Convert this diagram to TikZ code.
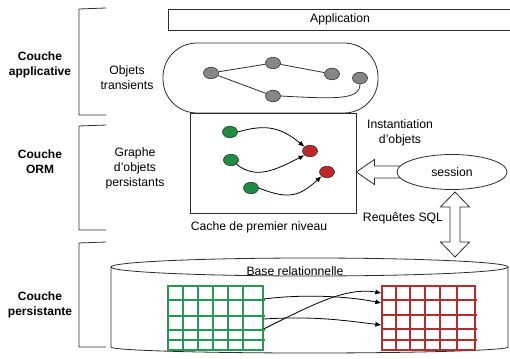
\documentclass[tikz,border=0pt]{standalone}
\usepackage{fontspec}
\setmainfont{Liberation Sans}
\usetikzlibrary{shapes.geometric,arrows.meta,calc}

\definecolor{linec}{RGB}{45,45,45}
\definecolor{objgray}{RGB}{135,135,135}
\definecolor{objgreen}{RGB}{30,140,65}
\definecolor{objred}{RGB}{190,40,40}
\definecolor{gridgreen}{RGB}{40,150,85}
\definecolor{gridred}{RGB}{180,45,45}

\tikzset{
  basefont/.style={font=\fontsize{12.2}{15}\selectfont},
  layertitle/.style={font=\fontsize{12}{15}\selectfont\bfseries, align=center},
  lbl/.style={basefont, align=center, inner sep=0pt},
  bracketline/.style={draw=linec, line width=0.8pt},
  frame/.style={draw=linec, line width=0.8pt},
  obj/.style={ellipse, draw=linec, line width=0.6pt, minimum width=15pt, minimum height=11.5pt, inner sep=0pt},
  grayobj/.style={obj, fill=objgray},
  greenobj/.style={obj, fill=objgreen},
  redobj/.style={obj, fill=objred},
  link/.style={draw=linec, line width=0.8pt},
  ref/.style={draw=black, line width=0.8pt, -{Latex[length=6pt,width=5pt]}},
  fatarrow/.style={draw=linec, line width=0.8pt, fill=white, line join=miter},
}

\begin{document}
\begin{tikzpicture}[x=1pt, y=-1pt]
\useasboundingbox (0,0) rectangle (510,358);

% --- layer brackets and titles
\draw[bracketline] (106,8) -- (79,9) -- (79,115) -- (106,115);
\draw[bracketline] (106,125) -- (79,126) -- (79,230) -- (106,230);
\draw[bracketline] (106,242) -- (79,243) -- (79,347) -- (106,347);

\node[layertitle] (lapp) at (40,65) {Couche\\applicative};
\node[layertitle] (lorm) at (40,162) {Couche\\ORM};
\node[layertitle] (lper) at (40,305) {Couche\\persistante};

\node[lbl] (ltrans) at (127,78) {Objets\\transients};
\node[lbl] (lpers) at (135,168) {Graphe\\d’objets\\persistants};

% --- application bar (open on the right)
\draw[frame] (510,9) -- (168,9) -- (168,30) -- (510,30);
\node[lbl] (app) at (340,19.5) {Application};

% --- transient objects
\draw[frame, rounded corners=34pt] (163,43) rectangle (378,113);
\node[grayobj] (n1) at (211,73) {};
\node[grayobj] (n2) at (273,63) {};
\node[grayobj] (n3) at (332,74) {};
\node[grayobj] (n4) at (360,78) {};
\node[grayobj] (n5) at (273,96) {};
\draw[link] (n1) -- (n2);
\draw[link] (n2) -- (n3);
\draw[link] (n1) -- (n5);
\draw[link] (n5.east) .. controls +(55,3) and +(0,16) .. (n4.south);

% --- first-level cache
\node[frame, minimum width=166pt, minimum height=100pt, inner sep=0pt] (cache) at (273,163) {};
\node[lbl] (lcache) at (259,227) {Cache de premier niveau};
\node[greenobj] (g1) at (230,132) {};
\node[greenobj] (g2) at (231,160) {};
\node[greenobj] (g3) at (251,188) {};
\node[redobj] (r1) at (310,151) {};
\node[redobj] (r2) at (327,172) {};
\draw[ref] (g1.east) .. controls +(30,-9) and +(-22,-18) .. (r1.north west);
\draw[ref] (g2.south east) .. controls +(20,16) and +(-28,14) .. (r1.south west);
\draw[ref] (g3.east) .. controls +(30,12) and +(-22,20) .. (r2.south west);

% --- session and its two wide arrows
\coordinate (tip) at (cache.east |- 0,172);
\draw[fatarrow] (tip) -- ++(18,-12.5) -- ++(0,6.5) -- ++(28,0) -- ++(0,12)
  -- ++(-28,0) -- ++(0,6.5) -- cycle;
\node[ellipse, frame, fill=white, minimum width=110pt, minimum height=35pt, inner sep=0pt]
  (session) at (452,172) {};
\node[lbl] (lsession) at (session) {session};

\node[lbl] (linst) at (400,133) {Instantiation\\d’objets};
\node[lbl] (lsql) at (403,218) {Requêtes SQL};

\coordinate (dtop) at (455,192);
\coordinate (dbot) at (455,257);
\draw[fatarrow] (dtop) -- ++(14.5,15) -- ++(-9.5,0) -- ($(dbot)+(5,-15)$) -- ++(9.5,0)
  -- (dbot) -- ++(-14.5,-15) -- ++(9.5,0) -- ($(dtop)+(-5,15)$) -- ++(-9.5,0) -- cycle;

% --- relational database cylinder
\draw[frame, fill=white] (111,267) -- (111,347)
  arc[start angle=180, end angle=0, x radius=198.5, y radius=6] -- (508,267);
\draw[frame] (309.5,267) ellipse [x radius=198.5, y radius=9];
\node[lbl] (lbase) at (295,271) {Base relationnelle};

% green table
\node[draw=gridgreen, line width=1.2pt, minimum width=95pt, minimum height=64pt, inner sep=0pt]
  (tg) at (215.5,318) {};
\begin{scope}[draw=gridgreen, line width=1.2pt]
  \foreach \x in {183,198,213,228,243}
    \draw (\x,286) -- (\x,350);
  \foreach \y in {300,316,330,340}
    \draw (168,\y) -- (265,\y);
\end{scope}

% red table
\node[draw=gridred, line width=1.2pt, minimum width=93pt, minimum height=64pt, inner sep=0pt]
  (tr) at (428.5,318) {};
\begin{scope}[draw=gridred, line width=1.2pt]
  \foreach \x in {396,410,425,440,457}
    \draw (\x,286) -- (\x,350);
  \foreach \y in {300,315,329,340}
    \draw (382,\y) -- (477,\y);
\end{scope}

% foreign-key references between the tables
\draw[ref] ([yshift=19pt]tg.east) .. controls +(40,-5) and +(-35,-7) .. ([yshift=15pt]tr.west);
\draw[ref] ([yshift=-1pt]tg.east) .. controls +(50,-3) and +(-40,-5) .. ([yshift=-7pt]tr.west);
\draw[ref] ([yshift=-11pt]tg.east) .. controls +(50,-25) and +(-35,-6) .. ([yshift=25pt]tr.west);
\end{tikzpicture}
\end{document}
